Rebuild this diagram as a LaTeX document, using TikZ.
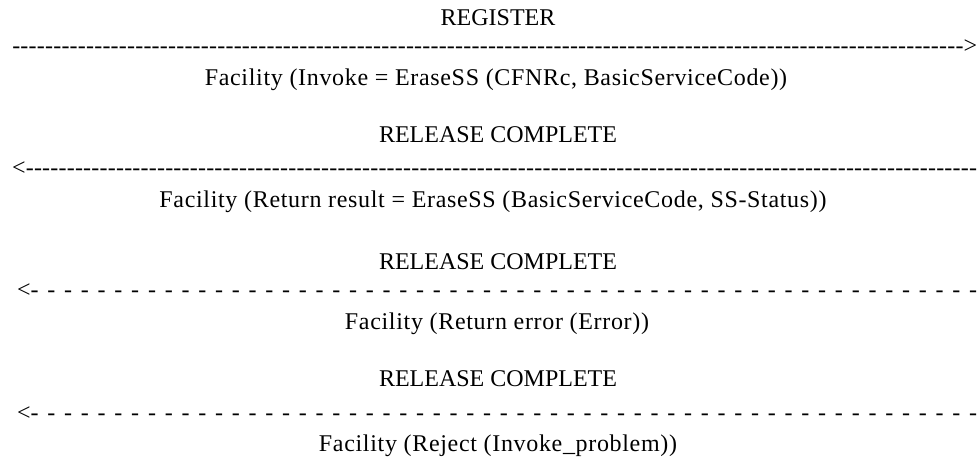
\documentclass[tikz,border=0pt]{standalone}
\usepackage{fontspec}
\setmainfont{Liberation Serif}
\begin{document}
\begin{tikzpicture}[x=1pt,y=-1pt,
  lbl/.style={anchor=base,inner sep=0pt,font=\fontsize{24}{28}\selectfont},
  facil/.style={anchor=base,inner sep=0pt,font=\fontsize{24}{28}\selectfont\addfontfeature{LetterSpace=2.8}},
  dashline/.style={anchor=base west,inner sep=0pt,font=\fontsize{24}{28}\selectfont}]
\useasboundingbox[fill=white] (0,0) rectangle (977,459);
% group 1
\node[lbl] (t1) at (498,25) {REGISTER};
\node[dashline] (a1) at (12,53.5) {\makebox[965pt][l]{\xleaders\hbox to 8.2pt{\hss-\hss}\hfill>}};
\node[facil] (f1) at (496,85) {Facility (Invoke = EraseSS (CFNRc, BasicServiceCode))};
% group 2
\node[lbl] (t2) at (498,142) {RELEASE COMPLETE};
\node[dashline] (a2) at (12,175.5) {\makebox[965pt][l]{<\xleaders\hbox to 8.2pt{\hss-\hss}\hfill}};
\node[facil] (f2) at (493,207) {Facility (Return result = EraseSS (BasicServiceCode, SS-Status))};
% group 3
\node[lbl] (t3) at (498,269) {RELEASE COMPLETE};
\node[dashline] (a3) at (17,297.5) {\makebox[960pt][l]{<-\xleaders\hbox to 16.6pt{\hss-}\hfill}};
\node[facil] (f3) at (497,329) {Facility (Return error (Error))};
% group 4
\node[lbl] (t4) at (498,386) {RELEASE COMPLETE};
\node[dashline] (a4) at (17,420.5) {\makebox[960pt][l]{<-\xleaders\hbox to 16.6pt{\hss-}\hfill}};
\node[facil] (f4) at (498,451) {Facility (Reject (Invoke\_problem))};
\end{tikzpicture}
\end{document}
